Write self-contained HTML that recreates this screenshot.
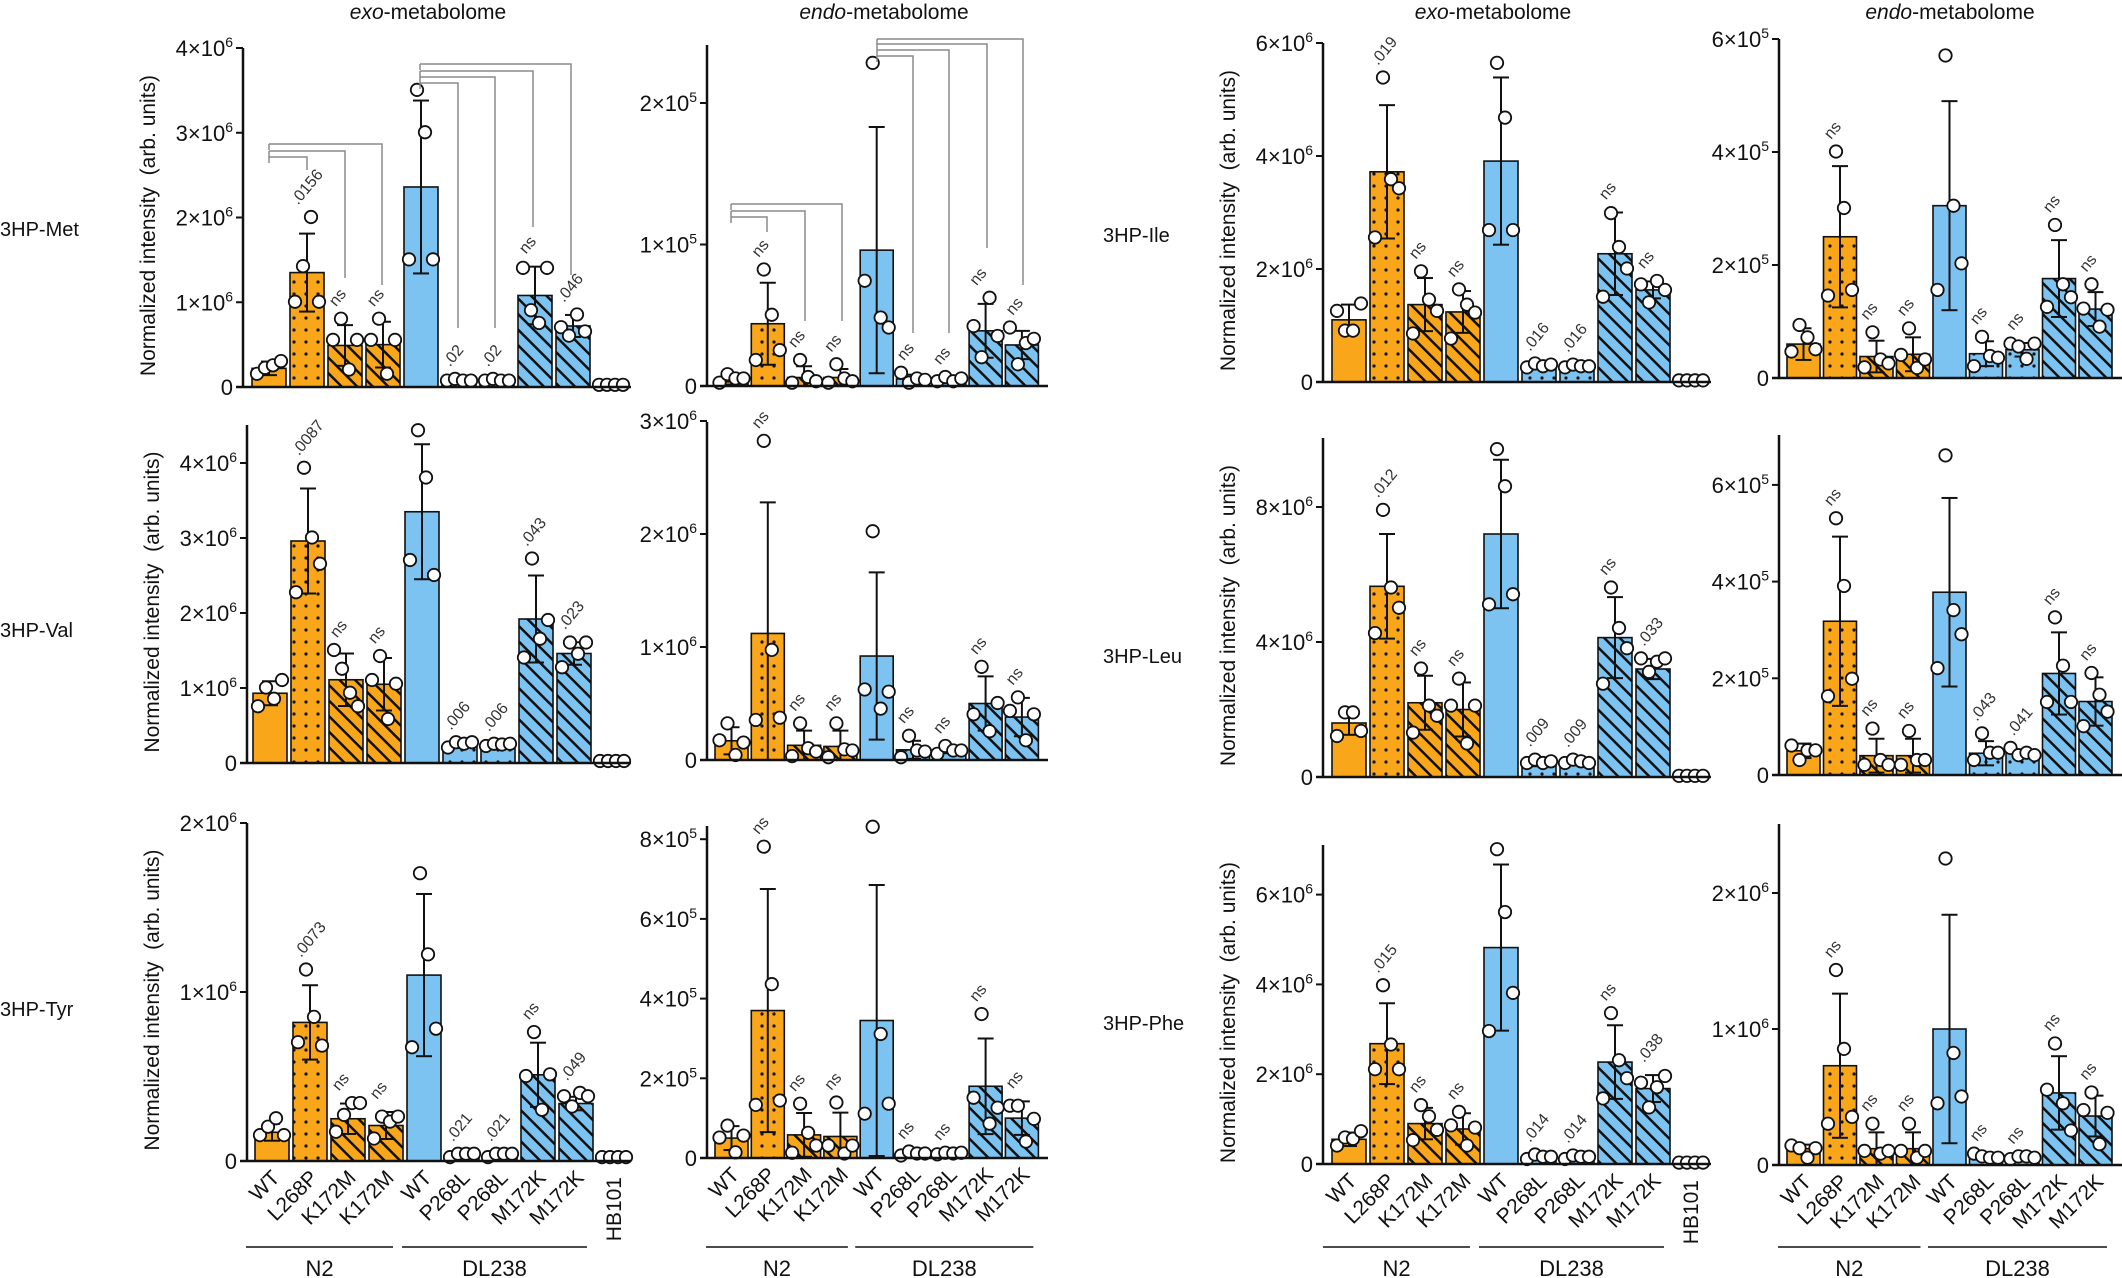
<!DOCTYPE html>
<html><head><meta charset="utf-8">
<style>
html,body{margin:0;padding:0;background:#fff;}
svg{display:block;}
text{font-family:"Liberation Sans",Arial,sans-serif;}
</style></head>
<body>
<svg id="s" xmlns="http://www.w3.org/2000/svg" width="2122" height="1278" viewBox="0 0 2122 1278">
<defs>
<pattern id="dotO" patternUnits="userSpaceOnUse" width="12" height="12"><rect width="12" height="12" fill="#F9A61A"/><circle cx="6" cy="6" r="1.6" fill="#111"/></pattern>
<pattern id="dotB" patternUnits="userSpaceOnUse" width="12" height="12"><rect width="12" height="12" fill="#7DC3F2"/><circle cx="6" cy="6" r="1.6" fill="#111"/></pattern>
<pattern id="hatO" patternUnits="userSpaceOnUse" width="11" height="11" patternTransform="rotate(-45)"><rect width="11" height="11" fill="#F9A61A"/><line x1="0" y1="0" x2="0" y2="11" stroke="#111" stroke-width="5"/></pattern>
<pattern id="hatB" patternUnits="userSpaceOnUse" width="11" height="11" patternTransform="rotate(-45)"><rect width="11" height="11" fill="#7DC3F2"/><line x1="0" y1="0" x2="0" y2="11" stroke="#111" stroke-width="5"/></pattern>
</defs>
</svg>
<script>
const fills=['#F9A61A','url(#dotO)','url(#hatO)','url(#hatO)','#7DC3F2','url(#dotB)','url(#dotB)','url(#hatB)','url(#hatB)'];
const names=['WT','L268P','K172M','K172M','WT','P268L','P268L','M172K','M172K','HB101'];
let out='';
function tick(m,e){return e?`${m}×10<tspan dy="-9" font-size="14">${e}</tspan>`:'0';}
function panel(p){
  const Y=v=>p.y0-v*p.ppu;
  let s='';
  const n=p.bars.length;
  for(let i=0;i<n;i++){
    const x=p.x0+i*p.pitch, cx=x+p.bw/2;
    if(i<9){
      const h=p.bars[i]*p.ppu;
      s+=`<rect x="${x}" y="${p.y0-h}" width="${p.bw}" height="${h}" fill="${fills[i]}" stroke="#111" stroke-width="1.6"/>`;
    }
    const sd=p.sd[i];
    if(sd>0){
      const a=Y(p.bars[i]+sd), b=Y(Math.max(p.bars[i]-sd,0));
      s+=`<line x1="${cx}" y1="${a}" x2="${cx}" y2="${b}" stroke="#111" stroke-width="2"/>`;
      s+=`<line x1="${cx-8}" y1="${a}" x2="${cx+8}" y2="${a}" stroke="#111" stroke-width="2"/>`;
      s+=`<line x1="${cx-8}" y1="${b}" x2="${cx+8}" y2="${b}" stroke="#111" stroke-width="2"/>`;
    }
    const off=[-12,-4,4,12];
    let mx=p.bars[i]+sd;
    (p.pts[i]||[]).forEach((v,k)=>{ if(v>mx)mx=v;
      s+=`<circle cx="${cx+off[k]}" cy="${Y(v)-0.5}" r="6.2" fill="#fff" stroke="#111" stroke-width="1.8"/>`;});
    const an=p.ann[i];
    if(an){
      const ty=Y(mx)-12, tx=cx-9;
      s+=`<text x="${tx}" y="${ty}" font-size="16" fill="#333" transform="rotate(-50 ${tx} ${ty})">${an}</text>`;
    }
  }
  s+=`<line x1="${p.ax}" y1="${p.top}" x2="${p.ax}" y2="${p.y0}" stroke="#111" stroke-width="2.5"/>`;
  s+=`<line x1="${p.ax-7}" y1="${p.y0}" x2="${p.xEnd}" y2="${p.y0}" stroke="#111" stroke-width="2.5"/>`;
  p.ticks.forEach(t=>{
    const y=Y(t[0]);
    s+=`<line x1="${p.ax-7}" y1="${y}" x2="${p.ax}" y2="${y}" stroke="#111" stroke-width="2"/>`;
    s+=`<text x="${p.ax-10}" y="${y+8}" font-size="22" text-anchor="end" fill="#111">${tick(t[1],t[2])}</text>`;
  });
  if(p.ylab){
    const yc=(p.top+p.y0)/2+8;
    s+=`<text x="${p.ax-88}" y="${yc}" font-size="21" text-anchor="middle" fill="#111" transform="rotate(-90 ${p.ax-88} ${yc})">Normalized intensity&#160;&#160;(arb. units)</text>`;
  }
  if(p.xl){
    for(let i=0;i<n;i++){
      const cx=p.x0+i*p.pitch+p.bw/2;
      if(i==9){
        s+=`<text x="${cx+7}" y="${p.y0+16}" font-size="21" text-anchor="end" fill="#111" transform="rotate(-90 ${cx+7} ${p.y0+16})">HB101</text>`;
      } else {
        const tx=cx+9, ty=p.y0+18;
        s+=`<text x="${tx}" y="${ty}" font-size="21" text-anchor="end" fill="#111" transform="rotate(-45 ${tx} ${ty})">${names[i]}</text>`;
      }
    }
    const b=i=>p.x0+i*p.pitch;
    const ly=1247;
    s+=`<line x1="${b(0)-9}" y1="${ly}" x2="${b(3)+24}" y2="${ly}" stroke="#111" stroke-width="1.6"/>`;
    s+=`<line x1="${b(4)-5}" y1="${ly}" x2="${b(8)+28}" y2="${ly}" stroke="#111" stroke-width="1.6"/>`;
    s+=`<text x="${(b(0)+b(3)+15)/2}" y="1276" font-size="22" text-anchor="middle" fill="#111">N2</text>`;
    s+=`<text x="${(b(4)+b(8)+23)/2}" y="1276" font-size="22" text-anchor="middle" fill="#111">DL238</text>`;
  }
  out+=s;
}
function br(x0,y,x1,y1){out+=`<polyline points="${x0},${y} ${x1},${y} ${x1},${y1}" fill="none" stroke="#8a8a8a" stroke-width="1.5"/><line x1="${x0}" y1="${y}" x2="${x0}" y2="${y+6}" stroke="#8a8a8a" stroke-width="1.5"/>`;}
const HB=[0.02,0.02,0.02,0.02];
const LE={x0:253,pitch:38,bw:34,xEnd:631,ylab:true};
const LN={ax:707,x0:715,pitch:36.3,bw:33,xEnd:1048};
const RE={ax:1323,x0:1332,pitch:38,bw:34,xEnd:1711,ylab:true};
const RN={ax:1779,x0:1787,pitch:36.5,bw:33,xEnd:2122};
const A10=["",".0156","ns","ns","",".02",".02","ns",".046",""];
const NS9=["","ns","ns","ns","","ns","ns","ns","ns"];
panel(Object.assign({},LE,{ax:243,x0:252,y0:387,ppu:84.75,top:48,
 ticks:[[0,0],[1,1,6],[2,2,6],[3,3,6],[4,4,6]],
 bars:[0.22,1.35,0.49,0.50,2.36,0.07,0.07,1.08,0.72,0.02],sd:[0.08,0.46,0.24,0.27,1.02,0.01,0.01,0.34,0.13,0],
 pts:[[0.15,0.22,0.25,0.3],[1.0,1.42,2.0,1.0],[0.55,0.8,0.2,0.55],[0.55,0.8,0.15,0.55],[1.5,3.5,3.0,1.5],[0.07,0.09,0.07,0.07],[0.07,0.09,0.07,0.07],[1.4,0.9,0.75,1.4],[0.7,0.6,0.85,0.65],HB],
 ann:A10}));
br(269,144,382,285);br(269,151,345,278);br(269,157,307,170);
br(420,64,571,275);br(420,71,533,227);br(420,77,495,328);br(420,83,458,328);
panel(Object.assign({},LN,{y0:386,ppu:141.5,top:45,ticks:[[0,0],[1,1,5],[2,2,5]],
 bars:[0.03,0.44,0.06,0.06,0.96,0.05,0.04,0.39,0.29],sd:[0.02,0.29,0.08,0.06,0.87,0.03,0.02,0.19,0.1],
 pts:[[0.02,0.08,0.05,0.05],[0.18,0.82,0.5,0.25],[0.02,0.18,0.06,0.03],[0.02,0.15,0.05,0.03],[0.74,2.28,0.48,0.41],[0.09,0.02,0.05,0.04],[0.03,0.06,0.03,0.05],[0.42,0.2,0.62,0.35],[0.41,0.15,0.3,0.33]],
 ann:NS9}));
br(731,204,842,321);br(731,211,805,321);br(731,217,767,232);
br(877,39,1023,285);br(877,44,987,248);br(877,50,949,333);br(877,56,913,333);
panel(Object.assign({},LE,{ax:247,x0:253,y0:763,ppu:75,top:425,
 ticks:[[0,0],[1,1,6],[2,2,6],[3,3,6],[4,4,6]],
 bars:[0.93,2.96,1.11,1.05,3.35,0.22,0.22,1.92,1.46,0.02],sd:[0.16,0.7,0.35,0.35,0.9,0.02,0.02,0.58,0.15,0],
 pts:[[0.75,1.0,0.85,1.1],[2.27,3.93,3.0,2.65],[1.5,1.25,0.93,0.75],[1.1,1.42,0.58,1.05],[2.7,4.43,3.8,2.5],[0.2,0.27,0.25,0.27],[0.22,0.25,0.24,0.25],[1.4,2.72,1.65,1.9],[1.27,1.6,1.45,1.6],HB],
 ann:["",".0087","ns","ns","",".006",".006",".043",".023",""]}));
panel(Object.assign({},LN,{y0:760,ppu:113,top:422,ticks:[[0,0],[1,1,6],[2,2,6],[3,3,6]],
 bars:[0.17,1.12,0.13,0.12,0.92,0.09,0.08,0.5,0.38],sd:[0.12,1.16,0.13,0.14,0.74,0.08,0.02,0.24,0.17],
 pts:[[0.17,0.32,0.04,0.15],[0.35,2.82,0.97,0.37],[0.03,0.32,0.1,0.07],[0.02,0.32,0.09,0.08],[0.62,2.02,0.45,0.6],[0.02,0.21,0.08,0.07],[0.05,0.12,0.08,0.08],[0.4,0.82,0.25,0.5],[0.43,0.55,0.17,0.4]],
 ann:NS9}));
panel(Object.assign({},LE,{ax:247,x0:255,y0:1161,ppu:169,top:823,xl:true,
 ticks:[[0,0],[1,1,6],[2,2,6]],
 bars:[0.17,0.82,0.25,0.21,1.1,0.03,0.03,0.51,0.34,0.02],sd:[0.05,0.22,0.09,0.08,0.48,0.005,0.005,0.19,0.04,0],
 pts:[[0.15,0.2,0.25,0.15],[0.7,1.13,0.85,0.68],[0.17,0.27,0.34,0.34],[0.13,0.26,0.23,0.26],[0.67,1.7,1.22,0.78],[0.02,0.04,0.04,0.04],[0.02,0.04,0.04,0.04],[0.5,0.76,0.3,0.51],[0.38,0.32,0.4,0.38],HB],
 ann:["",".0073","ns","ns","",".021",".021","ns",".049",""]}));
panel(Object.assign({},LN,{y0:1158,ppu:39.85,top:826,xl:true,ticks:[[0,0],[2,2,5],[4,4,5],[6,6,5],[8,8,5]],
 bars:[0.5,3.7,0.58,0.54,3.45,0.05,0.05,1.8,1.0],sd:[0.3,3.05,0.55,0.6,3.4,0.02,0.02,1.2,0.42],
 pts:[[0.5,0.8,0.13,0.55],[1.32,7.8,4.35,1.43],[0.12,1.35,0.62,0.3],[0.3,1.38,0.1,0.3],[1.1,8.3,3.1,1.35],[0.05,0.15,0.1,0.1],[0.08,0.12,0.1,0.12],[1.5,3.6,0.85,1.25],[1.3,1.3,0.4,0.97]],
 ann:NS9}));
panel(Object.assign({},RE,{y0:382,ppu:56.5,top:43,ticks:[[0,0],[2,2,6],[4,4,6],[6,6,6]],
 bars:[1.1,3.72,1.37,1.24,3.91,0.27,0.27,2.27,1.63,0.02],sd:[0.27,1.18,0.47,0.37,1.48,0.02,0.02,0.73,0.15,0],
 pts:[[1.25,0.9,0.9,1.38],[2.55,5.38,3.58,3.42],[0.85,1.95,1.45,1.25],[0.76,1.63,1.36,1.22],[2.68,5.64,4.67,2.68],[0.25,0.32,0.27,0.3],[0.25,0.3,0.27,0.27],[1.5,2.98,2.38,2.0],[1.72,1.4,1.78,1.62],HB],
 ann:["",".019","ns","ns","",".016",".016","ns","ns",""]}));
panel(Object.assign({},RN,{y0:378,ppu:56.5,top:39,ticks:[[0,0],[2,2,5],[4,4,5],[6,6,5]],
 bars:[0.6,2.5,0.38,0.42,3.05,0.43,0.5,1.76,1.22],sd:[0.28,1.25,0.28,0.3,1.85,0.22,0.12,0.68,0.3],
 pts:[[0.46,0.93,0.71,0.5],[1.45,4.0,3.0,1.55],[0.18,0.8,0.32,0.25],[0.4,0.87,0.17,0.32],[1.55,5.7,3.04,2.02],[0.2,0.72,0.38,0.35],[0.6,0.55,0.33,0.6],[1.25,2.7,1.65,1.42],[1.22,1.65,0.9,1.2]],
 ann:NS9}));
panel(Object.assign({},RE,{y0:777,ppu:33.75,top:438,ticks:[[0,0],[4,4,6],[8,8,6]],
 bars:[1.6,5.65,2.2,2.0,7.2,0.42,0.4,4.13,3.2,0.02],sd:[0.35,1.55,0.8,0.8,2.2,0.1,0.05,1.2,0.3,0],
 pts:[[1.2,1.9,1.9,1.35],[4.25,7.9,5.6,5.0],[1.3,3.2,2.1,1.8],[2.1,2.9,0.98,2.1],[5.1,9.7,8.6,5.4],[0.4,0.5,0.4,0.45],[0.4,0.5,0.45,0.4],[2.75,5.6,4.4,3.8],[3.5,3.1,3.4,3.5],HB],
 ann:["",".012","ns","ns","",".009",".009","ns",".033",""]}));
panel(Object.assign({},RN,{y0:775,ppu:48.35,top:435,ticks:[[0,0],[2,2,5],[4,4,5],[6,6,5]],
 bars:[0.5,3.18,0.4,0.4,3.78,0.45,0.45,2.1,1.52],sd:[0.15,1.75,0.35,0.35,1.95,0.25,0.05,0.85,0.5],
 pts:[[0.6,0.3,0.5,0.5],[1.62,5.3,3.9,1.98],[0.2,0.95,0.3,0.2],[0.2,0.9,0.3,0.3],[2.2,6.6,3.4,2.9],[0.3,0.85,0.45,0.45],[0.55,0.4,0.45,0.4],[1.5,3.25,2.25,1.5],[1.0,2.1,1.65,1.3]],
 ann:["","ns","ns","ns","",".043",".041","ns","ns"]}));
panel(Object.assign({},RE,{y0:1164,ppu:44.9,top:845,xl:true,ticks:[[0,0],[2,2,6],[4,4,6],[6,6,6]],
 bars:[0.55,2.68,0.9,0.78,4.82,0.12,0.12,2.27,1.68,0.02],sd:[0.15,0.9,0.35,0.35,1.85,0.03,0.03,0.82,0.3,0],
 pts:[[0.4,0.58,0.55,0.72],[2.1,3.97,2.65,2.1],[0.52,1.3,1.05,0.75],[0.85,1.15,0.4,0.8],[2.95,7.0,5.6,3.8],[0.1,0.2,0.15,0.15],[0.1,0.18,0.15,0.15],[1.45,3.35,2.3,1.9],[1.8,1.25,1.7,1.95],HB],
 ann:["",".015","ns","ns","",".014",".014","ns",".038",""]}));
panel(Object.assign({},RN,{y0:1165,ppu:136,top:824,xl:true,ticks:[[0,0],[1,1,6],[2,2,6]],
 bars:[0.12,0.73,0.12,0.12,1.0,0.06,0.05,0.53,0.36],sd:[0.03,0.53,0.12,0.12,0.84,0.01,0.01,0.27,0.15],
 pts:[[0.14,0.12,0.05,0.12],[0.3,1.43,0.85,0.35],[0.1,0.3,0.08,0.1],[0.1,0.3,0.05,0.1],[0.45,2.25,0.82,0.5],[0.08,0.06,0.05,0.05],[0.04,0.06,0.06,0.05],[0.55,0.89,0.45,0.25],[0.4,0.53,0.15,0.38]],
 ann:NS9}));
const T=(x,y,pre)=>`<text x="${x}" y="${y}" font-size="21" text-anchor="middle" fill="#111"><tspan font-style="italic">${pre}</tspan>-metabolome</text>`;
out+=T(428,19,'exo')+T(884,19,'endo')+T(1493,19,'exo')+T(1950,19,'endo');
const R=(x,y,t)=>`<text x="${x}" y="${y}" font-size="20" fill="#111">${t}</text>`;
out+=R(0,236,'3HP-Met')+R(0,637,'3HP-Val')+R(0,1016,'3HP-Tyr')+R(1103,242,'3HP-Ile')+R(1103,663,'3HP-Leu')+R(1103,1030,'3HP-Phe');
document.getElementById('s').insertAdjacentHTML('beforeend',out);
</script>
</body></html>
